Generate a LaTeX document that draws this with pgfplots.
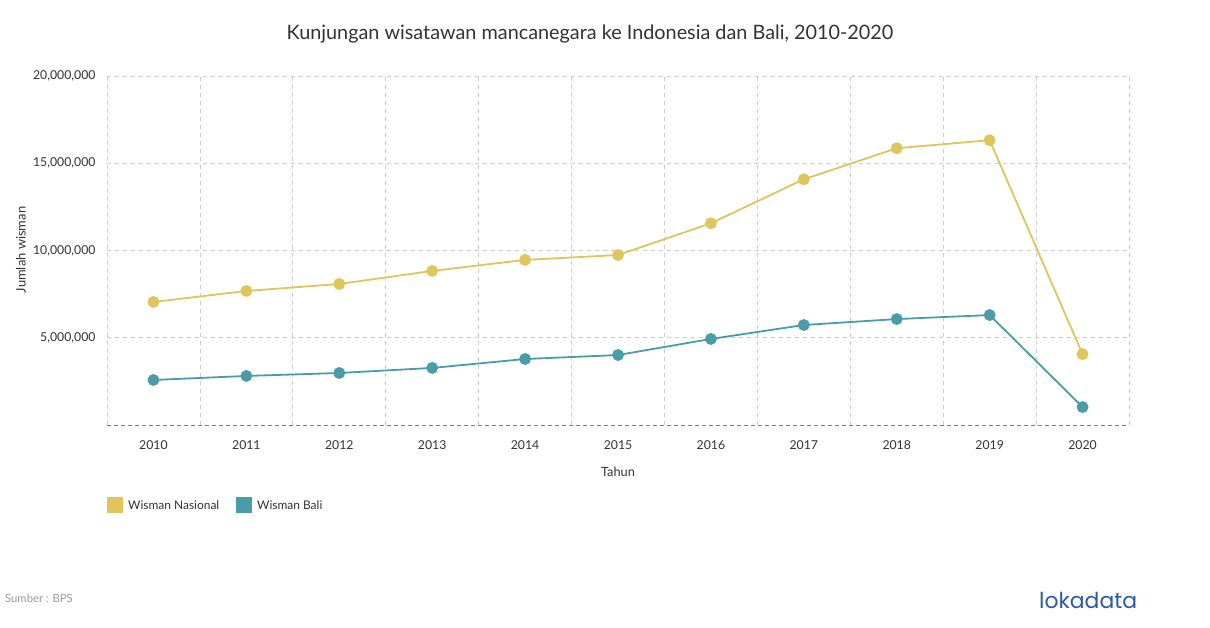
\documentclass[border=0pt]{standalone}
\usepackage{pgfplots}
\pgfplotsset{compat=1.18}
\usepackage{fontspec}
\setmainfont{Lato}
\newfontfamily\logofont{Poppins}
\definecolor{cNas}{HTML}{E0C45C}
\definecolor{cBali}{HTML}{4A9DA8}
\definecolor{txt}{HTML}{333333}
\definecolor{gridc}{HTML}{CCCCCC}
\definecolor{logo}{HTML}{2B5BA8}
\begin{document}
\begin{tikzpicture}[x=1bp,y=1bp]
\path[fill=white] (0,0) rectangle (1210,628);
\begin{axis}[
  at={(107bp,203bp)}, anchor=south west,
  scale only axis, width=1022bp, height=349bp,
  xmin=-0.5, xmax=10.5, ymin=0, ymax=20000000,
  axis line style={draw=none},
  xtick={0,...,10},
  xticklabels={2010,2011,2012,2013,2014,2015,2016,2017,2018,2019,2020},
  minor xtick={-0.5,0.5,...,10.5},
  ytick={5000000,10000000,15000000,20000000},
  scaled y ticks=false,
  major tick length=0pt, minor tick length=0pt,
  yticklabel style={xshift=-8bp, /pgf/number format/.cd, fixed, 1000 sep={,}, assume math mode=true},
  ticklabel style={font=\fontsize{12.3}{14}\selectfont, text=txt},
  xticklabel style={yshift=-12bp},
  ymajorgrids, xminorgrids,
  major grid style={gridc, dash pattern=on 4bp off 4bp, line width=0.8bp},
  minor grid style={gridc, dash pattern=on 4bp off 4bp, line width=0.8bp},
  clip=false,
]
\draw[gray, dash pattern=on 4bp off 3bp, line width=0.9bp] (axis cs:-0.5,0) -- (axis cs:10.5,0);
\addplot[cNas, line width=1.8bp, mark=*, mark size=5bp, mark options={fill=cNas, draw=cNas}] coordinates {
(0,7050000) (1,7680000) (2,8080000) (3,8830000) (4,9460000) (5,9740000)
(6,11560000) (7,14080000) (8,15860000) (9,16320000) (10,4060000)};
\addplot[cBali, line width=1.8bp, mark=*, mark size=5bp, mark options={fill=cBali, draw=cBali}] coordinates {
(0,2580000) (1,2810000) (2,2980000) (3,3270000) (4,3780000) (5,4010000)
(6,4930000) (7,5730000) (8,6070000) (9,6300000) (10,1030000)};
\end{axis}
\node[text=txt, font=\fontsize{19.9}{22}\selectfont] at (590,594) {Kunjungan wisatawan mancanegara ke Indonesia dan Bali, 2010-2020};
\node[text=txt, font=\fontsize{12.8}{14}\selectfont] at (618,156) {Tahun};
\node[text=txt, font=\fontsize{13}{15}\selectfont, rotate=90] at (21,378) {Jumlah wisman};
\fill[cNas] (107,115) rectangle (123,131);
\node[anchor=west, text=txt, font=\fontsize{12}{14}\selectfont, inner sep=0] at (128,123) {Wisman Nasional};
\fill[cBali] (236,115) rectangle (252,131);
\node[anchor=west, text=txt, font=\fontsize{12}{14}\selectfont, inner sep=0] at (257,123) {Wisman Bali};
\node[anchor=west, text=gray!80, font=\fontsize{11.3}{13}\selectfont, inner sep=0] at (5,30) {Sumber : BPS};
\node[anchor=west, text=logo, font=\logofont\fontsize{22}{24}\selectfont, inner sep=0] at (1039,28) {lokadata};
\end{tikzpicture}
\end{document}
